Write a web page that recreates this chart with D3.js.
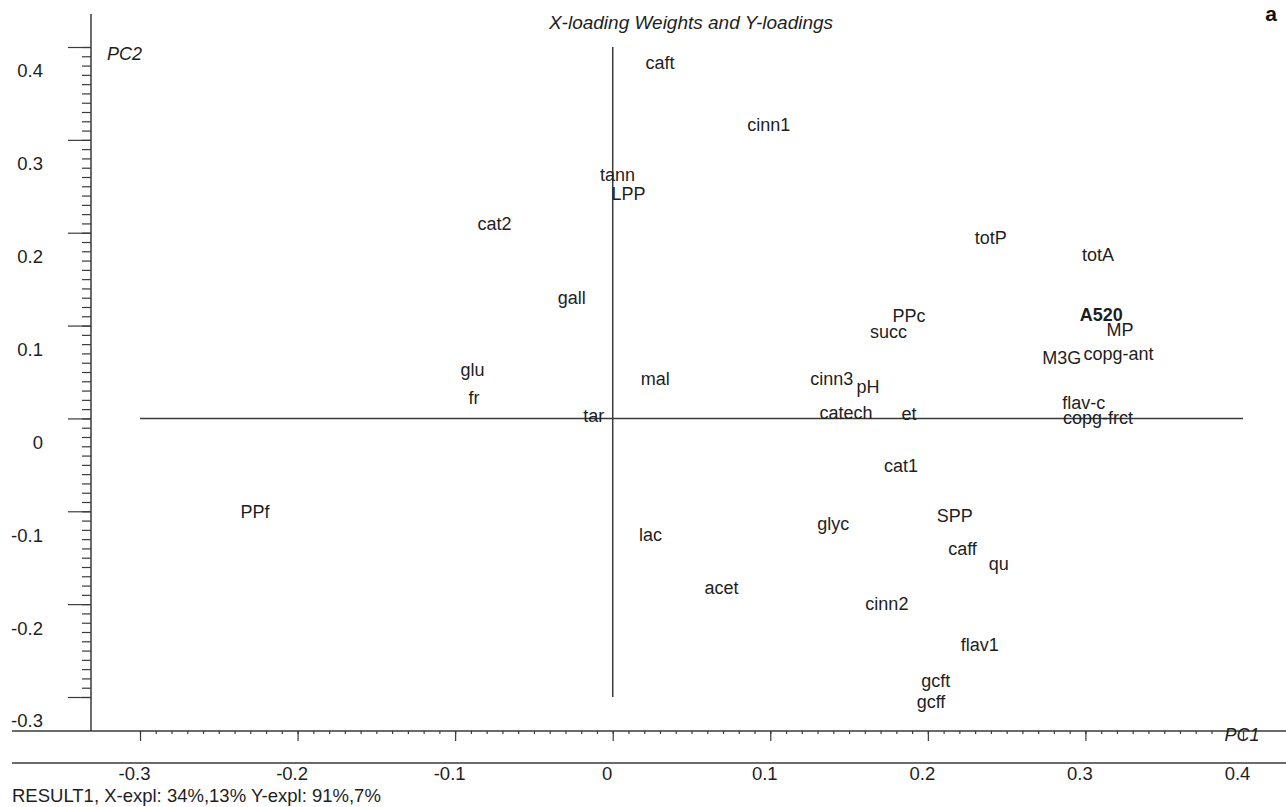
<!DOCTYPE html>
<html>
<head>
<meta charset="utf-8">
<script src="https://cdn.jsdelivr.net/npm/d3@7"></script>
<style>
  html, body { margin: 0; padding: 0; background: #fff; }
  svg { display: block; font-family: "Liberation Sans", Arial, sans-serif; }
</style>
</head>
<body>
<div id="plot"></div>
<script>
// X-loading weights and Y-loadings, PC1 vs PC2
const names = ['caft', 'cinn1', 'tann', 'LPP', 'cat2', 'totP', 'totA', 'gall', 'PPc', 'succ',
  'A520', 'MP', 'M3G', 'copg-ant', 'glu', 'mal', 'cinn3', 'pH', 'fr', 'flav-c',
  'tar', 'catech', 'et', 'copg-frct', 'cat1', 'PPf', 'SPP', 'glyc', 'lac', 'caff',
  'qu', 'acet', 'cinn2', 'flav1', 'gcft', 'gcff'];
const pc1 = [0.030, 0.099, 0.003, 0.010, -0.075, 0.240, 0.308, -0.026, 0.188, 0.175,
  0.310, 0.322, 0.285, 0.321, -0.089, 0.027, 0.139, 0.162, -0.088, 0.299,
  -0.012, 0.148, 0.188, 0.308, 0.183, -0.227, 0.217, 0.140, 0.024, 0.222,
  0.245, 0.069, 0.174, 0.233, 0.205, 0.202];
const pc2 = [0.383, 0.316, 0.263, 0.242, 0.210, 0.195, 0.176, 0.130, 0.111, 0.094,
  0.112, 0.096, 0.066, 0.070, 0.053, 0.043, 0.043, 0.034, 0.023, 0.017,
  0.003, 0.006, 0.005, 0.001, -0.051, -0.100, -0.105, -0.113, -0.125, -0.140,
  -0.156, -0.182, -0.199, -0.244, -0.282, -0.305];
const boldNames = ['A520'];
const majorTicks = [-0.3, -0.2, -0.1, 0, 0.1, 0.2, 0.3, 0.4];
const minorTicks = d3.range(-30, 41).map((i) => i / 100);

const W = 1286, H = 807;
const ink = '#3a3a3a';

const svg = d3.select('#plot').append('svg').attr('width', W).attr('height', H);

const x = d3.scaleLinear().domain([-0.3, 0.4]).range([140, 1243]);
const y = d3.scaleLinear().domain([-0.3, 0.4]).range([697, 47]);

const axisX = 91;   // left axis position
const axisY = 731;  // bottom axis position

// left axis
svg.append('line').attr('x1', axisX).attr('x2', axisX).attr('y1', 14).attr('y2', axisY)
  .attr('stroke', ink).attr('stroke-width', 1.5);

const yMinor = svg.append('g').attr('transform', `translate(${axisX},0)`)
  .call(d3.axisLeft(y).tickValues(minorTicks).tickSize(9).tickFormat(''));
yMinor.select('.domain').remove();
yMinor.selectAll('line').attr('stroke', ink).attr('stroke-width', 1.2);

const yMajor = svg.append('g').attr('transform', `translate(${axisX},0)`)
  .call(d3.axisLeft(y).tickValues(majorTicks).tickSize(23).tickPadding(25).tickFormat((d) => String(d)));
yMajor.select('.domain').remove();
yMajor.selectAll('line').attr('stroke', ink).attr('stroke-width', 1.2);
yMajor.selectAll('text').attr('y', 24).attr('fill', '#1e1e1e')
  .style('font-size', '18.5px').style('font-family', '"Liberation Sans", Arial, sans-serif');

// bottom axis
svg.append('line').attr('x1', 12).attr('x2', W).attr('y1', axisY).attr('y2', axisY)
  .attr('stroke', ink).attr('stroke-width', 1.5);
svg.append('line').attr('x1', 12).attr('x2', W).attr('y1', 763).attr('y2', 763)
  .attr('stroke', ink).attr('stroke-width', 1.5);

const xMinor = svg.append('g').attr('transform', `translate(0,${axisY})`)
  .call(d3.axisBottom(x).tickValues(minorTicks).tickSize(3).tickFormat(''));
xMinor.select('.domain').remove();
xMinor.selectAll('line').attr('stroke', ink).attr('stroke-width', 1.2);

const xMajor = svg.append('g').attr('transform', `translate(0,${axisY})`)
  .call(d3.axisBottom(x).tickValues(majorTicks).tickSize(10).tickPadding(26).tickFormat((d) => String(d)));
xMajor.select('.domain').remove();
xMajor.selectAll('line').attr('stroke', ink).attr('stroke-width', 1.2);
xMajor.selectAll('text').attr('dx', -6).attr('fill', '#1e1e1e')
  .style('font-size', '18.5px').style('font-family', '"Liberation Sans", Arial, sans-serif');

// zero lines
svg.append('line').attr('x1', x(-0.3)).attr('x2', x(0.4)).attr('y1', y(0)).attr('y2', y(0))
  .attr('stroke', ink).attr('stroke-width', 1.5);
svg.append('line').attr('x1', x(0)).attr('x2', x(0)).attr('y1', y(0.4)).attr('y2', y(-0.3))
  .attr('stroke', ink).attr('stroke-width', 1.5);

// variable labels
const pts = names.map((n, i) => ({ name: n, pc1: pc1[i], pc2: pc2[i] }));
svg.append('g').selectAll('text').data(pts).enter().append('text')
  .attr('x', (d) => x(d.pc1))
  .attr('y', (d) => y(d.pc2))
  .attr('dy', '0.36em')
  .attr('text-anchor', 'middle')
  .attr('fill', '#1e1e1e')
  .style('font-size', '18px')
  .style('font-weight', (d) => (boldNames.includes(d.name) ? 'bold' : 'normal'))
  .text((d) => d.name);

// titles and annotations
svg.append('text').attr('x', 691).attr('y', 22).attr('dy', '0.36em').attr('text-anchor', 'middle')
  .style('font-size', '19px').style('font-style', 'italic').attr('fill', '#1e1e1e')
  .text('X-loading Weights and Y-loadings');
svg.append('text').attr('x', 1271).attr('y', 13).attr('dy', '0.36em').attr('text-anchor', 'middle')
  .style('font-size', '21px').style('font-weight', 'bold').attr('fill', '#111').text('a');
svg.append('text').attr('x', 107).attr('y', 54).attr('dy', '0.36em')
  .style('font-size', '18px').style('font-style', 'italic').attr('fill', '#1e1e1e').text('PC2');
svg.append('text').attr('x', 1242).attr('y', 735).attr('dy', '0.36em').attr('text-anchor', 'middle')
  .style('font-size', '18px').style('font-style', 'italic').attr('fill', '#1e1e1e').text('PC1');
svg.append('text').attr('x', 12).attr('y', 795).attr('dy', '0.36em')
  .style('font-size', '18.5px').attr('fill', '#1e1e1e')
  .text('RESULT1, X-expl: 34%,13%  Y-expl: 91%,7%');
</script>
</body>
</html>
